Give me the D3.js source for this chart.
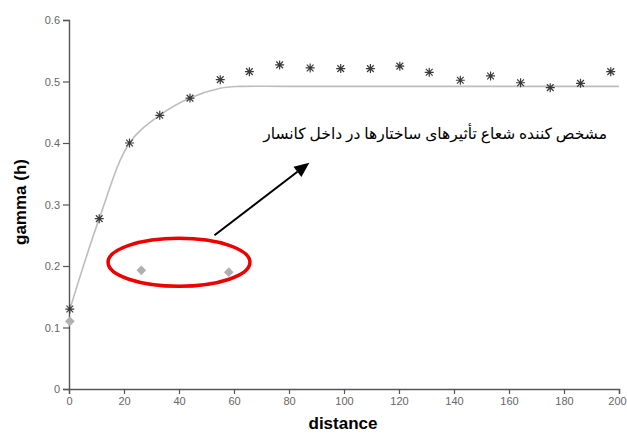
<!DOCTYPE html>
<html>
<head>
<meta charset="utf-8">
<script src="https://cdn.jsdelivr.net/npm/d3@7"></script>
<style>
  html, body { margin: 0; padding: 0; background: #ffffff; }
  svg { display: block; }
</style>
</head>
<body>
<svg id="chart" width="627" height="433"></svg>
<script>
// Experimental semivariogram (lag distance vs. gamma)
const lagDistance = [0.3, 11, 22, 33, 44, 55, 65.6, 76.6, 87.7, 98.8, 109.6, 120.3, 131, 142.3, 153.3, 164.2, 175, 186, 197];
const gammaValues = [0.13, 0.277, 0.400, 0.445, 0.473, 0.503, 0.516, 0.527, 0.522, 0.521, 0.521, 0.525, 0.515, 0.502, 0.509, 0.498, 0.490, 0.497, 0.516];

// Outlying pairs shown as grey diamonds
const outlierDistance = [0.3, 26.3, 58.1];
const outlierGamma = [0.110, 0.193, 0.190];

// Fitted model curve, control points
const modelDistance = [0, 11, 22, 33, 44, 55, 62, 80, 200];
const modelGamma = [0.125, 0.277, 0.400, 0.445, 0.473, 0.489, 0.492, 0.492, 0.492];

// Axis ticks
const xTicks = [0, 20, 40, 60, 80, 100, 120, 140, 160, 180, 200];
const yTicks = [0, 0.1, 0.2, 0.3, 0.4, 0.5, 0.6];

// Annotation
const noteText = "مشخص کننده شعاع تأثیرهای ساختارها در داخل کانسار";

const svg = d3.select("#chart");
const x = d3.scaleLinear().domain([0, 200]).range([69, 619]);
const y = d3.scaleLinear().domain([0, 0.6]).range([389, 20]);

const axisColor = "#555";
const labelColor = "#666";

// Y axis
const yAxis = svg.append("g")
  .attr("transform", `translate(${x(0)},0)`)
  .call(d3.axisLeft(y).tickValues(yTicks).tickSize(6).tickPadding(3)
    .tickFormat(d => d === 0 ? "0" : d.toFixed(1)));
// X axis
const xAxis = svg.append("g")
  .attr("transform", `translate(0,${y(0)})`)
  .call(d3.axisBottom(x).tickValues(xTicks).tickSize(5).tickPadding(3)
    .tickFormat(d3.format("d")));

[yAxis, xAxis].forEach(g => {
  g.select(".domain").attr("stroke", axisColor).attr("stroke-width", 1.4);
  g.selectAll(".tick line").attr("stroke", axisColor).attr("stroke-width", 1.2);
  g.selectAll(".tick text")
    .attr("fill", labelColor)
    .style("font-family", "Arial, 'Liberation Sans', sans-serif")
    .style("font-size", "11px");
});
// keep the last x label inside the page
xAxis.selectAll(".tick text").filter(d => d === 200).attr("dx", "-2");

// Axis titles
svg.append("text")
  .attr("x", 343).attr("y", 429)
  .attr("text-anchor", "middle")
  .style("font-family", "Arial, 'Liberation Sans', sans-serif")
  .style("font-weight", "bold")
  .style("font-size", "17px")
  .attr("fill", "#000")
  .text("distance");

svg.append("text")
  .attr("transform", "translate(26,202) rotate(-90)")
  .attr("text-anchor", "middle")
  .style("font-family", "Arial, 'Liberation Sans', sans-serif")
  .style("font-weight", "bold")
  .style("font-size", "17px")
  .attr("fill", "#000")
  .text("gamma (h)");

// Model curve
const modelPts = modelDistance.map((d, i) => [d, modelGamma[i]]);
svg.append("path")
  .datum(modelPts)
  .attr("fill", "none")
  .attr("stroke", "#bdbdbd")
  .attr("stroke-width", 1.6)
  .attr("d", d3.line().x(d => x(d[0])).y(d => y(d[1])).curve(d3.curveCatmullRom.alpha(0.5)));

// Grey diamonds
svg.append("g").selectAll("path")
  .data(outlierDistance.map((d, i) => [d, outlierGamma[i]]))
  .join("path")
  .attr("transform", d => `translate(${x(d[0])},${y(d[1])})`)
  .attr("d", d3.symbol().type(d3.symbolDiamond2).size(60)())
  .attr("fill", "#b0b0b0");

// Asterisk markers
function asterisk(r) {
  const k = r * 0.75;
  return `M0,${-r}L0,${r}M${-r},0L${r},0M${-k},${-k}L${k},${k}M${-k},${k}L${k},${-k}`;
}
svg.append("g").selectAll("path")
  .data(lagDistance.map((d, i) => [d, gammaValues[i]]))
  .join("path")
  .attr("transform", d => `translate(${x(d[0])},${y(d[1])})`)
  .attr("d", asterisk(4.5))
  .attr("stroke", "#3a3a3a")
  .attr("stroke-width", 1.2)
  .attr("fill", "none");

// Red ellipse around the outlying pairs
svg.append("ellipse")
  .attr("cx", x(40)).attr("cy", y(0.206))
  .attr("rx", x(25.8) - x(0)).attr("ry", y(0) - y(0.039))
  .attr("fill", "none")
  .attr("stroke", "#ee0000")
  .attr("stroke-width", 3.5);

// Arrow pointing to the note
const tail = [x(52.9), y(0.250)];
const tip = [x(87.4), y(0.368)];
const ang = Math.atan2(tip[1] - tail[1], tip[0] - tail[0]);
const headLen = 15, headHalf = 6.5;
const base = [tip[0] - headLen * Math.cos(ang), tip[1] - headLen * Math.sin(ang)];
svg.append("line")
  .attr("x1", tail[0]).attr("y1", tail[1])
  .attr("x2", base[0]).attr("y2", base[1])
  .attr("stroke", "#000").attr("stroke-width", 2);
svg.append("path")
  .attr("d", `M${tip[0]},${tip[1]}` +
    `L${base[0] + headHalf * Math.sin(ang)},${base[1] - headHalf * Math.cos(ang)}` +
    `L${base[0] - headHalf * Math.sin(ang)},${base[1] + headHalf * Math.cos(ang)}Z`)
  .attr("fill", "#000");

// Note text
svg.append("text")
  .attr("x", 607).attr("y", 139)
  .attr("text-anchor", "start")
  .attr("direction", "rtl")
  .style("font-family", "'Times New Roman', 'DejaVu Serif', 'DejaVu Sans', serif")
  .style("font-size", "15.5px")
  .attr("fill", "#000")
  .text(noteText);
</script>
</body>
</html>
